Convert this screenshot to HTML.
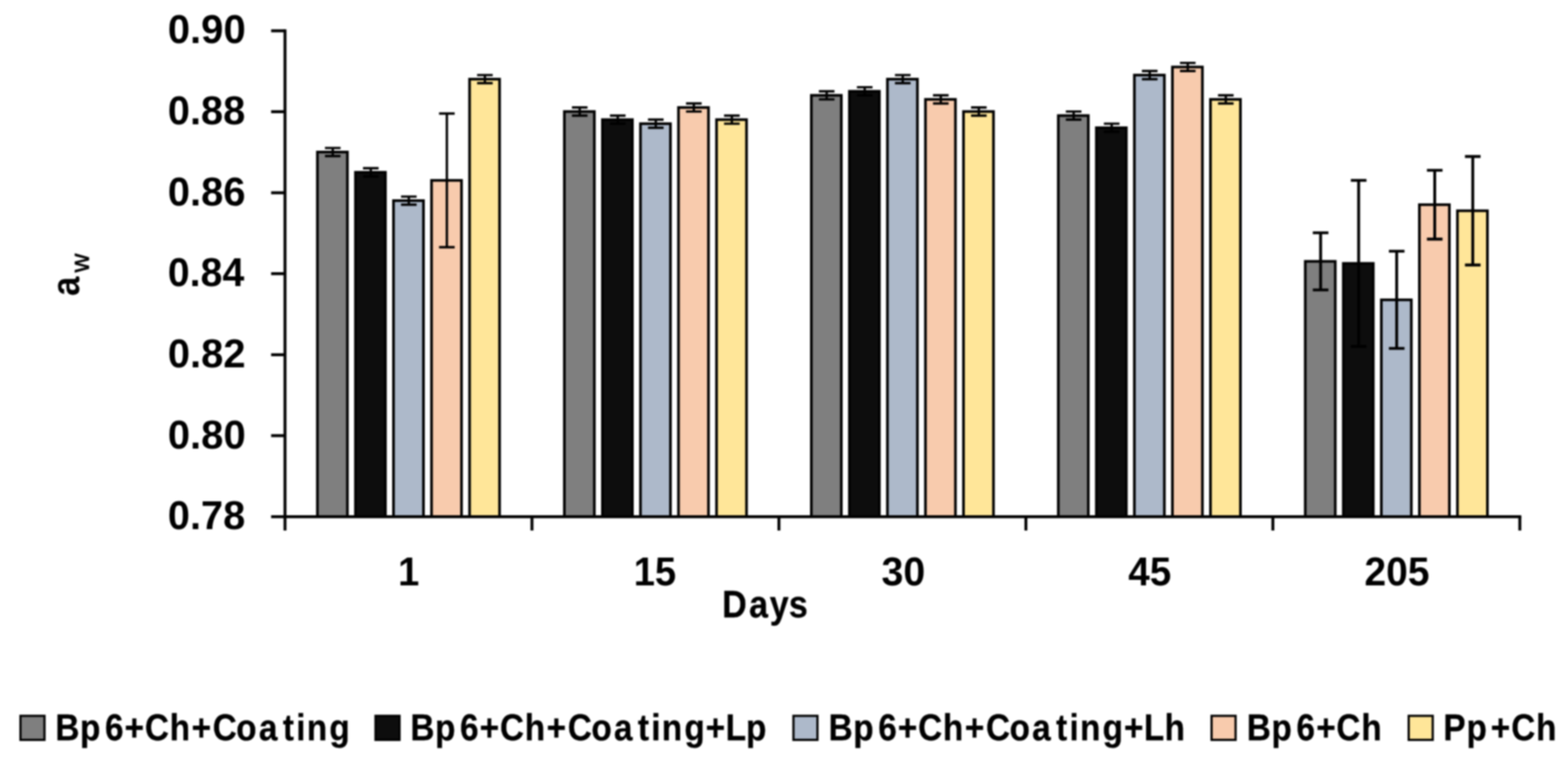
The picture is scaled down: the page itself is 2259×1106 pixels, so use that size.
<!DOCTYPE html>
<html lang="en">
<head>
<meta charset="utf-8">
<title>Water activity chart</title>
<style>
html,body{margin:0;padding:0;background:#fff;}
body{width:2259px;height:1106px;overflow:hidden;}
svg{display:block;filter:blur(0.8px);}
</style>
</head>
<body>
<svg width="2259" height="1106" viewBox="0 0 2259 1106">
<rect width="2259" height="1106" fill="#fff"/>
<g stroke="#000" stroke-width="3.8">
<rect x="457.3" y="218.95" width="43.2" height="525.15" fill="#7f7f7f"/>
<rect x="512.1" y="248.11" width="43.2" height="495.99" fill="#0d0d0d"/>
<rect x="566.9" y="288.93" width="43.2" height="455.17" fill="#adb9ca"/>
<rect x="621.7" y="259.77" width="43.2" height="484.33" fill="#f8cbad"/>
<rect x="676.5" y="113.98" width="43.2" height="630.12" fill="#ffe699"/>
<rect x="813.1" y="160.63" width="43.2" height="583.47" fill="#7f7f7f"/>
<rect x="867.9" y="172.29" width="43.2" height="571.81" fill="#0d0d0d"/>
<rect x="922.7" y="178.13" width="43.2" height="565.97" fill="#adb9ca"/>
<rect x="977.5" y="154.8" width="43.2" height="589.3" fill="#f8cbad"/>
<rect x="1032.3" y="172.29" width="43.2" height="571.81" fill="#ffe699"/>
<rect x="1168.9" y="137.3" width="43.2" height="606.8" fill="#7f7f7f"/>
<rect x="1223.7" y="131.47" width="43.2" height="612.63" fill="#0d0d0d"/>
<rect x="1278.5" y="113.98" width="43.2" height="630.12" fill="#adb9ca"/>
<rect x="1333.3" y="143.13" width="43.2" height="600.97" fill="#f8cbad"/>
<rect x="1388.1" y="160.63" width="43.2" height="583.47" fill="#ffe699"/>
<rect x="1524.7" y="166.46" width="43.2" height="577.64" fill="#7f7f7f"/>
<rect x="1579.5" y="183.96" width="43.2" height="560.14" fill="#0d0d0d"/>
<rect x="1634.3" y="108.14" width="43.2" height="635.96" fill="#adb9ca"/>
<rect x="1689.1" y="96.48" width="43.2" height="647.62" fill="#f8cbad"/>
<rect x="1743.9" y="143.13" width="43.2" height="600.97" fill="#ffe699"/>
<rect x="1880.5" y="376.4" width="43.2" height="367.7" fill="#7f7f7f"/>
<rect x="1935.3" y="379.32" width="43.2" height="364.78" fill="#0d0d0d"/>
<rect x="1990.1" y="431.8" width="43.2" height="312.3" fill="#adb9ca"/>
<rect x="2044.9" y="294.76" width="43.2" height="449.34" fill="#f8cbad"/>
<rect x="2099.7" y="303.51" width="43.2" height="440.59" fill="#ffe699"/>
</g>
<g stroke="#000" stroke-width="4.2" fill="none">
<path d="M410.6 42.2 V764.1"/>
<path d="M390.6 744.1 H2191.7"/>
<path d="M390.6 627.47 H410.6M390.6 510.83 H410.6M390.6 394.2 H410.6M390.6 277.56 H410.6M390.6 160.93 H410.6M390.6 44.3 H410.6M766.4 744.1 V764.1M1122.2 744.1 V764.1M1478 744.1 V764.1M1833.8 744.1 V764.1M2189.6 744.1 V764.1"/>
</g>
<path d="M479.4 213.12 V224.78 M468.15 213.12 H490.65 M468.15 224.78 H490.65M534.2 242.27 V253.94 M522.95 242.27 H545.45 M522.95 253.94 H545.45M589 283.1 V294.76 M577.75 283.1 H600.25 M577.75 294.76 H600.25M643.8 163.55 V355.99 M632.55 163.55 H655.05 M632.55 355.99 H655.05M698.6 108.14 V119.81 M687.35 108.14 H709.85 M687.35 119.81 H709.85" stroke="#000" stroke-width="3.4" fill="none"/>
<path d="M835.2 154.8 V166.46 M823.95 154.8 H846.45 M823.95 166.46 H846.45M890 166.46 V178.13 M878.75 166.46 H901.25 M878.75 178.13 H901.25M944.8 172.29 V183.96 M933.55 172.29 H956.05 M933.55 183.96 H956.05M999.6 148.97 V160.63 M988.35 148.97 H1010.85 M988.35 160.63 H1010.85M1054.4 166.46 V178.13 M1043.15 166.46 H1065.65 M1043.15 178.13 H1065.65" stroke="#000" stroke-width="3.4" fill="none"/>
<path d="M1191 131.47 V143.13 M1179.75 131.47 H1202.25 M1179.75 143.13 H1202.25M1245.8 125.64 V137.3 M1234.55 125.64 H1257.05 M1234.55 137.3 H1257.05M1300.6 108.14 V119.81 M1289.35 108.14 H1311.85 M1289.35 119.81 H1311.85M1355.4 137.3 V148.97 M1344.15 137.3 H1366.65 M1344.15 148.97 H1366.65M1410.2 154.8 V166.46 M1398.95 154.8 H1421.45 M1398.95 166.46 H1421.45" stroke="#000" stroke-width="3.4" fill="none"/>
<path d="M1546.8 160.63 V172.29 M1535.55 160.63 H1558.05 M1535.55 172.29 H1558.05M1601.6 178.13 V189.79 M1590.35 178.13 H1612.85 M1590.35 189.79 H1612.85M1656.4 102.31 V113.98 M1645.15 102.31 H1667.65 M1645.15 113.98 H1667.65M1711.2 90.65 V102.31 M1699.95 90.65 H1722.45 M1699.95 102.31 H1722.45M1766 137.3 V148.97 M1754.75 137.3 H1777.25 M1754.75 148.97 H1777.25" stroke="#000" stroke-width="3.4" fill="none"/>
<path d="M1902.6 335.29 V417.52 M1891.35 335.29 H1913.85 M1891.35 417.52 H1913.85M1957.4 259.77 V498.87 M1946.15 259.77 H1968.65 M1946.15 498.87 H1968.65M2012.2 361.82 V501.78 M2000.95 361.82 H2023.45 M2000.95 501.78 H2023.45M2067 245.19 V344.33 M2055.75 245.19 H2078.25 M2055.75 344.33 H2078.25M2121.8 225.36 V381.65 M2110.55 225.36 H2133.05 M2110.55 381.65 H2133.05" stroke="#000" stroke-width="4.1" fill="none"/>
<g font-family="'Liberation Sans', sans-serif" font-size="100" fill="#000">
<text transform="matrix(0.5730 0 0 0.5720 241.83 762.24)" font-weight="bold">0.78</text>
<text transform="matrix(0.5762 0 0 0.5720 241.82 645.61)" font-weight="bold">0.80</text>
<text transform="matrix(0.5759 0 0 0.5720 241.82 528.97)" font-weight="bold">0.82</text>
<text transform="matrix(0.5654 0 0 0.5720 241.86 412.34)" font-weight="bold">0.84</text>
<text transform="matrix(0.5747 0 0 0.5720 241.83 295.71)" font-weight="bold">0.86</text>
<text transform="matrix(0.5730 0 0 0.5720 241.83 179.07)" font-weight="bold">0.88</text>
<text transform="matrix(0.5762 0 0 0.5720 241.82 62.44)" font-weight="bold">0.90</text>
<text transform="matrix(0.5501 0 0 0.5749 573.53 843.44)" font-weight="bold">1</text>
<text transform="matrix(0.5502 0 0 0.5749 913.03 843.44)" font-weight="bold">15</text>
<text transform="matrix(0.5657 0 0 0.5749 1270.10 843.44)" font-weight="bold">30</text>
<text transform="matrix(0.5564 0 0 0.5749 1625.46 843.44)" font-weight="bold">45</text>
<text transform="matrix(0.5617 0 0 0.5749 1965.75 843.44)" font-weight="bold">205</text>
<text x="2123.6 2202.7 2263.4 2319.5" transform="matrix(0.4900 0 0 0.5460 0 889.38)" font-weight="bold" stroke="#000" stroke-width="0.8">Days</text>
<text x="166.2 240.2 315.2 374.1 434.7 509.6 574.9 638.4 709.1 777.2 848.9 889.2 920.7 988.7" transform="matrix(0.4800 0 0 0.5345 0 1065.89)" font-weight="bold" stroke="#000" stroke-width="0.8">Bp6+Ch+Coating</text>
<text x="1231.8 1305.8 1380.8 1439.7 1500.3 1575.2 1640.5 1704.0 1774.8 1842.8 1914.5 1954.8 1986.3 2054.3 2118.2 2178.3 2239.0" transform="matrix(0.4800 0 0 0.5345 0 1065.89)" font-weight="bold" stroke="#000" stroke-width="0.8">Bp6+Ch+Coating+Lp</text>
<text x="2487.0 2561.0 2636.0 2694.9 2755.5 2830.4 2895.7 2959.2 3030.0 3098.0 3169.7 3210.0 3241.6 3309.5 3373.4 3433.5 3495.1" transform="matrix(0.4800 0 0 0.5345 0 1065.89)" font-weight="bold" stroke="#000" stroke-width="0.8">Bp6+Ch+Coating+Lh</text>
<text x="3742.4 3816.4 3891.4 3950.3 4010.9 4085.8" transform="matrix(0.4800 0 0 0.5345 0 1065.89)" font-weight="bold" stroke="#000" stroke-width="0.8">Bp6+Ch</text>
<text x="4332.5 4401.5 4474.4 4536.0 4610.3" transform="matrix(0.4800 0 0 0.5345 0 1065.89)" font-weight="bold" stroke="#000" stroke-width="0.8">Pp+Ch</text>
<text transform="matrix(0 -0.5030 0.5658 0 114.15 426.17)" font-weight="bold">a<tspan font-size="64.6" font-weight="normal" dx="11.6" dy="24.0" textLength="53.6" lengthAdjust="spacingAndGlyphs" stroke="#000" stroke-width="1.4" stroke-linejoin="round">w</tspan></text>
</g>
<g stroke="#000" stroke-width="3.2">
<rect x="29.5" y="1030.9" width="34.6" height="34.6" fill="#7f7f7f"/>
<rect x="541" y="1030.9" width="34.6" height="34.6" fill="#0d0d0d"/>
<rect x="1143.1" y="1030.9" width="34.6" height="34.6" fill="#adb9ca"/>
<rect x="1745.5" y="1030.9" width="34.6" height="34.6" fill="#f8cbad"/>
<rect x="2029.5" y="1030.9" width="34.6" height="34.6" fill="#ffe699"/>
</g>
</svg>
</body>
</html>
